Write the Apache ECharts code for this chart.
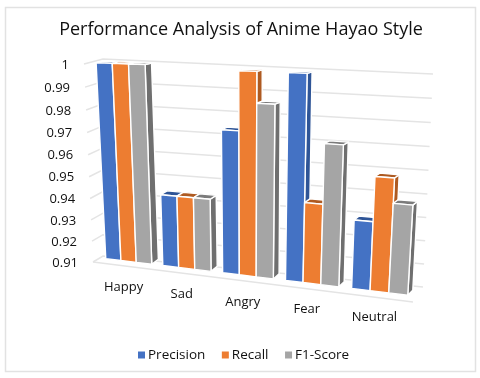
<!DOCTYPE html>
<html>
<head>
<meta charset="utf-8">
<style>html,body{margin:0;padding:0;background:#fff}#chart{width:480px;height:378px}</style>
<script src="https://cdn.jsdelivr.net/npm/echarts@6/dist/echarts.min.js"></script>
</head>
<body>
<div id="chart"></div>
<script>
const categories = ['Happy', 'Sad', 'Angry', 'Fear', 'Neutral'];
const precision = [1, 0.9432, 0.974, 0.999, 0.94];
const recall = [1, 0.9432, 0.999, 0.9455, 0.959];
const f1Score = [1, 0.9432, 0.986, 0.971, 0.9485];
const yTicks = [0.91, 0.92, 0.93, 0.94, 0.95, 0.96, 0.97, 0.98, 0.99, 1];
const yTickLabels = ['0.91', '0.92', '0.93', '0.94', '0.95', '0.96', '0.97', '0.98', '0.99', '1'];

const FONT = '"Open Sans", sans-serif';

// perspective planes, corners are top-left, top-right, bottom-right, bottom-left
const barFront = [[90.5, 62.5], [427.5, 75.5], [414.5, 296], [100.5, 258]];
const barDepth = [[7, -1.5], [4, -1.5], [5, -5], [7, -5]];
const barBack = barFront.map((p, i) => [p[0] + barDepth[i][0], p[1] + barDepth[i][1]]);
const wallFront = [[84, 64], [424, 82], [413, 302], [93, 262]];
const wallBack = [[103, 59], [433, 74], [423, 287], [103, 256]];

// unit square to quad homography
function makePlane(q) {
    const [x0, y0] = q[0], [x1, y1] = q[1], [x2, y2] = q[2], [x3, y3] = q[3];
    const dx1 = x1 - x2, dx2 = x3 - x2, sx = x0 - x1 + x2 - x3;
    const dy1 = y1 - y2, dy2 = y3 - y2, sy = y0 - y1 + y2 - y3;
    const den = dx1 * dy2 - dx2 * dy1;
    const g = (sx * dy2 - dx2 * sy) / den;
    const h = (dx1 * sy - sx * dy1) / den;
    const a = x1 - x0 + g * x1, b = x3 - x0 + h * x3;
    const d = y1 - y0 + g * y1, e = y3 - y0 + h * y3;
    return (s, t) => {
        const w = g * s + h * t + 1;
        return [(a * s + b * t + x0) / w, (d * s + e * t + y0) / w];
    };
}

const planes = {
    barFront: makePlane(barFront),
    barBack: makePlane(barBack),
    wallFront: makePlane(wallFront),
    wallBack: makePlane(wallBack)
};

// grid pixel -> point on a plane
function project(plane, pt, sys) {
    return planes[plane]((pt[0] - sys.x) / sys.width, (pt[1] - sys.y) / sys.height);
}

function face(points, color) {
    return {
        type: 'polygon',
        shape: { points: points },
        style: { fill: color, stroke: '#fff', lineWidth: 1.4, lineJoin: 'round' }
    };
}

function barSeries(name, values, slot, color, topColor, sideColor) {
    return {
        name: name,
        type: 'custom',
        coordinateSystem: 'cartesian2d',
        itemStyle: { color: color },
        data: values.map((v, i) => [i, v]),
        encode: { x: 0, y: 1 },
        renderItem: (params, api) => {
            const sys = params.coordSys;
            const top = api.coord([api.value(0), api.value(1)]);
            const base = api.coord([api.value(0), 0.91]);
            const band = api.size([1, 0])[0];
            const barW = band * 0.27;
            const left = top[0] - band * 0.405 + slot * barW;
            const right = left + barW;
            const f = p => project('barFront', p, sys);
            const b = p => project('barBack', p, sys);
            const tl = [left, top[1]], tr = [right, top[1]], br = [right, base[1]], bl = [left, base[1]];
            return {
                type: 'group',
                children: [
                    face([f(tr), b(tr), b(br), f(br)], sideColor),
                    face([f(tl), b(tl), b(tr), f(tr)], topColor),
                    face([f(tl), f(tr), f(br), f(bl)], color)
                ]
            };
        }
    };
}

const gridLineStyle = { stroke: '#e4e4e4', lineWidth: 1.5, fill: 'none' };

const wallSeries = {
    type: 'custom',
    coordinateSystem: 'cartesian2d',
    silent: true,
    data: yTicks.map((v, i) => [0, v, i]),
    encode: { x: 0, y: 1 },
    renderItem: (params, api) => {
        const sys = params.coordSys;
        const y = api.coord([0, api.value(1)])[1];
        const front = project('wallFront', [sys.x, y], sys);
        const back = project('wallBack', [sys.x, y], sys);
        const backRight = project('wallBack', [sys.x + sys.width, y], sys);
        const children = [{
            type: 'polyline',
            shape: { points: [front, back, backRight] },
            style: gridLineStyle
        }, {
            type: 'text',
            style: {
                x: front[0] - 15,
                y: front[1] + 1,
                text: yTickLabels[api.value(2)],
                align: 'right',
                verticalAlign: 'middle',
                font: '13px ' + FONT,
                fill: '#111'
            }
        }];
        if (api.value(2) === 0) {
            // floor front edge
            children.push({
                type: 'line',
                shape: {
                    x1: front[0], y1: front[1],
                    x2: project('wallFront', [sys.x + sys.width, y], sys)[0],
                    y2: project('wallFront', [sys.x + sys.width, y], sys)[1]
                },
                style: gridLineStyle
            });
        }
        return { type: 'group', children: children };
    }
};

const categorySeries = {
    type: 'custom',
    coordinateSystem: 'cartesian2d',
    silent: true,
    data: categories.map((c, i) => [i, 0.91]),
    encode: { x: 0, y: 1 },
    renderItem: (params, api) => {
        const p = project('barFront', api.coord([api.value(0), 0.91]), params.coordSys);
        return {
            type: 'text',
            style: {
                x: p[0] - 5,
                y: p[1] + 26,
                text: categories[api.value(0)],
                align: 'center',
                verticalAlign: 'middle',
                font: '13px ' + FONT,
                fill: '#111'
            }
        };
    }
};

const chart = echarts.init(document.getElementById('chart'));

chart.setOption({
    animation: false,
    backgroundColor: '#fff',
    title: {
        text: 'Performance Analysis of Anime Hayao Style',
        left: 236,
        top: 16,
        textAlign: 'center',
        textStyle: { fontFamily: FONT, fontSize: 18, fontWeight: 'normal', color: '#111' }
    },
    // frame round the figure
    graphic: [{
        type: 'rect',
        shape: { x: 5.5, y: 7.5, width: 470, height: 364 },
        style: { fill: 'none', stroke: '#e2e2e2', lineWidth: 1.5 },
        silent: true
    }],
    legend: {
        data: ['Precision', 'Recall', 'F1-Score'],
        left: 133,
        top: 343,
        itemWidth: 7,
        itemHeight: 7,
        itemGap: 16.5,
        icon: 'rect',
        textStyle: { fontFamily: FONT, fontSize: 13.5, color: '#111', padding: [0, 0, 0, -2] }
    },
    grid: { left: 90, right: 50, top: 60, bottom: 80 },
    xAxis: { type: 'category', data: categories, show: false },
    yAxis: { type: 'value', min: 0.91, max: 1, interval: 0.01, show: false },
    series: [
        wallSeries,
        categorySeries,
        barSeries('Precision', precision, 0, '#4472c4', '#2f5597', '#2f5597'),
        barSeries('Recall', recall, 1, '#ed7d31', '#ae5a21', '#ae5a21'),
        barSeries('F1-Score', f1Score, 2, '#a5a5a5', '#7b7b7b', '#6f6f6f')
    ]
});
</script>
</body>
</html>
